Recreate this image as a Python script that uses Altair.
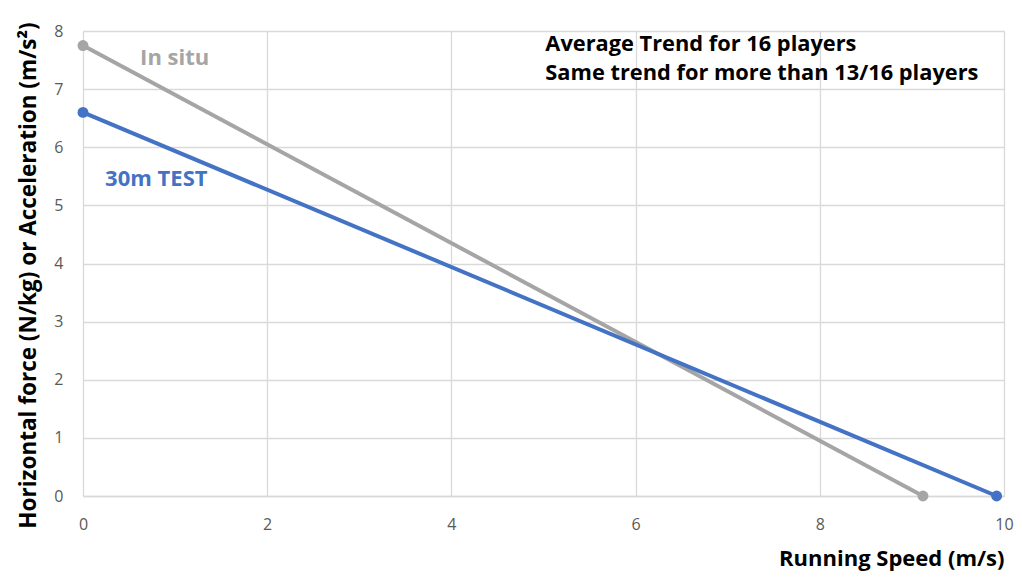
import altair as alt
import pandas as pd

# Data
speed_in_situ = [0.0, 9.12]
force_in_situ = [7.75, 0.0]
speed_30m = [0.0, 9.92]
force_30m = [6.60, 0.0]
series_names = ["In situ", "30m TEST"]
series_colors = ["#A5A5A5", "#4472C4"]

label_text = ["In situ", "30m TEST"]
label_x = [0.62, 0.24]
label_y = [7.53, 5.46]

note_text = ["Average Trend for 16 players", "Same trend for more than 13/16 players"]
note_x = [5.02, 5.02]
note_y = [7.78, 7.27]

FONT = "Open Sans"

rows = []
for x, y in zip(speed_in_situ, force_in_situ):
    rows.append({"speed": x, "force": y, "series": series_names[0]})
for x, y in zip(speed_30m, force_30m):
    rows.append({"speed": x, "force": y, "series": series_names[1]})
df = pd.DataFrame(rows)

labels = pd.DataFrame({"text": label_text, "x": label_x, "y": label_y, "series": series_names})
notes = pd.DataFrame({"text": note_text, "x": note_x, "y": note_y})

color = alt.Color("series:N", scale=alt.Scale(domain=series_names, range=series_colors), legend=None)

xenc = alt.X(
    "speed:Q",
    scale=alt.Scale(domain=[0, 10], nice=False),
    axis=alt.Axis(
        title="Running Speed (m/s)",
        values=[0, 2, 4, 6, 8, 10],
        format="d",
        grid=True,
        ticks=False,
        tickSize=0,
        labelFlush=False,
        labelPadding=20,
        labelFontSize=16,
        labelColor="#595959",
        labelFont=FONT,
        domainColor="#d9d9d9",
        domainWidth=1.3,
        gridColor="#d9d9d9",
        gridWidth=1.3,
        titleFont=FONT,
        titleFontSize=22,
        titleFontWeight="bold",
        titleColor="#000000",
        titleAnchor="end",
        titleAlign="right",
        titleX=921,
        titleY=62,
        titleBaseline="middle",
    ),
)
yenc = alt.Y(
    "force:Q",
    scale=alt.Scale(domain=[0, 8], nice=False),
    axis=alt.Axis(
        title="Horizontal force (N/kg) or Acceleration (m/s²)",
        values=[0, 1, 2, 3, 4, 5, 6, 7, 8],
        format="d",
        grid=True,
        ticks=False,
        tickSize=0,
        labelFlush=False,
        labelPadding=20,
        labelFontSize=16,
        labelColor="#595959",
        labelFont=FONT,
        domain=False,
        gridColor="#d9d9d9",
        gridWidth=1.3,
        titleFont=FONT,
        titleFontSize=22.5,
        titleFontWeight="bold",
        titleColor="#000000",
        titleX=-43,
        titleY=244,
        titleAngle=270,
        titleBaseline="bottom",
        titleAlign="center",
    ),
)

lines = alt.Chart(df).mark_line(strokeWidth=4).encode(x=xenc, y=yenc, color=color, detail="series:N")
points = alt.Chart(df).mark_circle(size=120, opacity=1).encode(x="speed:Q", y="force:Q", color=color)

lab = alt.Chart(labels).mark_text(
    align="left", baseline="middle", font=FONT, fontSize=22, fontWeight="bold"
).encode(x="x:Q", y="y:Q", text="text:N", color=color)

nt = alt.Chart(notes).mark_text(
    align="left", baseline="middle", font=FONT, fontSize=21.8, fontWeight="bold", color="#000000"
).encode(x="x:Q", y="y:Q", text="text:N")

chart = (
    alt.layer(lines, points, lab, nt)
    .properties(
        width=921,
        height=465,
        autosize=alt.AutoSizeParams(type="none"),
        padding={"left": 75, "top": 23, "right": 10, "bottom": 80},
    )
    .configure_view(stroke=None)
    .configure(background="white")
)

chart.save("out.html", embed_options={"renderer": "svg", "actions": False})
